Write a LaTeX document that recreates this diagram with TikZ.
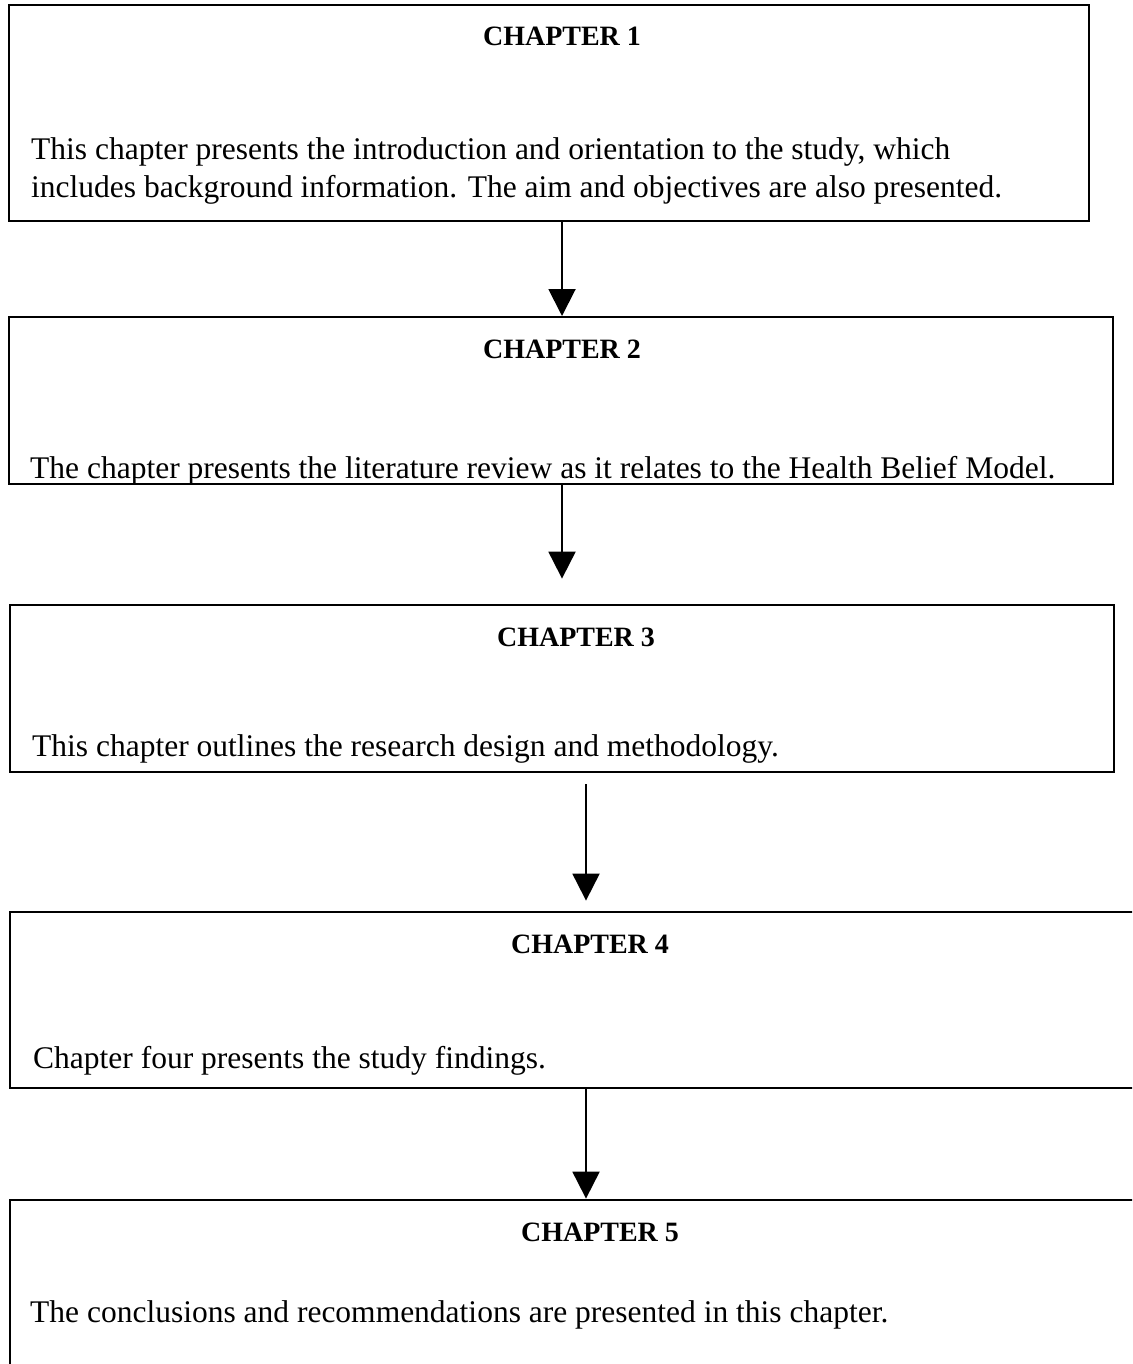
\documentclass[tikz,border=0pt]{standalone}
\usepackage{fontspec}
\setmainfont{Liberation Serif}
\usepackage{tikz}
\usetikzlibrary{positioning}
\usetikzlibrary{arrows.meta}
\tikzset{chapbox/.style={draw, rectangle, line width=2pt, inner sep=0pt}}
\tikzset{chaphead/.style={font=\fontsize{28}{32}\selectfont\bfseries, anchor=base, inner sep=0pt}}
\tikzset{chaptext/.style={font=\fontsize{31.5}{38}\selectfont, anchor=base west, inner sep=0pt}}
\tikzset{flow/.style={-{Triangle[width=27pt,length=27pt]}, line width=2pt}}

\begin{document}
\begin{tikzpicture}[x=1pt,y=-1pt]
\useasboundingbox (0,0) rectangle (1132,1364);
\clip (0,0) rectangle (1132,1364);
% the five chapter boxes
\node[chapbox, minimum width=1080pt, minimum height=216pt] (box1) at (549,113) {};
\node[chapbox, minimum width=1104pt, minimum height=167pt] (box2) at (561,400.5) {};
\node[chapbox, line width=2.8pt, minimum width=1104pt, minimum height=167pt] (box3) at (562,688.5) {};
\node[chapbox, line width=2.8pt, minimum width=1140pt, minimum height=176pt] (box4) at (580,1000) {};
\node[chapbox, line width=2.8pt, minimum width=1140pt, minimum height=200pt] (box5) at (580,1300) {};
% headings
\node[chaphead] (head1) at (562,46) {CHAPTER 1};
\node[chaphead] (head2) at (562,358) {CHAPTER 2};
\node[chaphead] (head3) at (576,646) {CHAPTER 3};
\node[chaphead] (head4) at (590,953) {CHAPTER 4};
\node[chaphead] (head5) at (600,1241) {CHAPTER 5};
% texts
\node[chaptext] (text1) at (31,160) {This chapter presents the introduction and orientation to the study, which};
\node[chaptext] (text1b) at (31,198) {includes background information. The aim and objectives are also presented.};
\node[chaptext] (text2) at (30,478) {The chapter presents the literature review as it relates to the Health Belief Model.};
\node[chaptext] (text3) at (32,756) {This chapter outlines the research design and methodology.};
\node[chaptext] (text4) at (33,1068) {Chapter four presents the study findings.};
\node[chaptext] (text5) at (30,1322) {The conclusions and recommendations are presented in this chapter.};
% arrows
\coordinate (a1) at (562,0);
\coordinate (a3) at (586,0);
\draw[flow] (box1.south -| a1) -- (box2.north -| a1);
\draw[flow, shorten >=25pt] (box2.south -| a1) -- (box3.north -| a1);
\draw[flow, shorten <=11pt, shorten >=10pt] (box3.south -| a3) -- (box4.north -| a3);
\draw[flow] (box4.south -| a3) -- (box5.north -| a3);
\end{tikzpicture}
\end{document}
